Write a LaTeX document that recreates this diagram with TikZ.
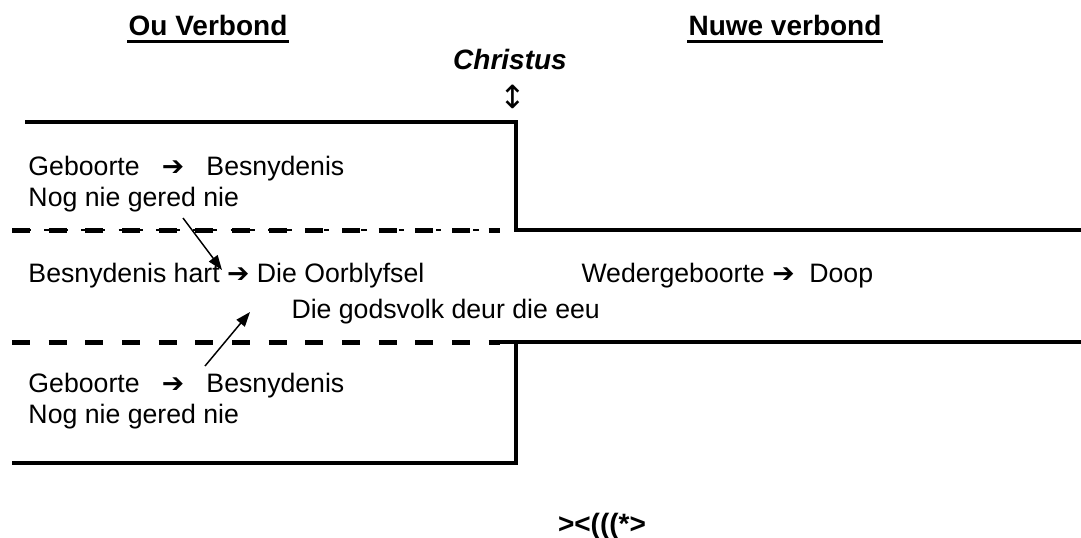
\documentclass[tikz,border=0pt]{standalone}
\usepackage{fontspec}
\setmainfont{Liberation Sans}
\newfontfamily\symfont{DejaVu Sans}
\usetikzlibrary{arrows.meta}

\tikzset{every picture/.style={line width=0.75pt}}
\tikzset{
  txt/.style={anchor=base west, inner sep=0.75pt, font=\fontsize{20}{24}\selectfont},
  head/.style={anchor=base, inner sep=0.75pt, font=\fontsize{21}{25}\selectfont\bfseries},
  wall/.style={line width=3pt},
  dashwall/.style={line width=3.75pt, dash pattern=on 13.5pt off 14pt},
  thindash/.style={line width=1pt, dash pattern=on 4pt off 10pt, dash phase=-10pt},
  pointer/.style={line width=1.1pt, -{Triangle[length=11pt,width=8pt]}},
}
\newcommand{\rarr}{{\symfont ➔}}

\begin{document}
\begin{tikzpicture}[x=0.75pt,y=0.75pt,yscale=-1,xscale=1]
\useasboundingbox (0,0) rectangle (1081,537);

%Straight Lines: old covenant, top
\draw [wall] (25,122) -- (516,122) -- (516,230) -- (1081,230) ;
\draw [dashwall] (12,230) -- (500,230) ;
\draw [thindash] (12,230) -- (500,230) ;
%Straight Lines: old covenant, bottom
\draw [dashwall] (12,342) -- (500,342) ;
\draw [wall] (495,342) -- (1081,342) ;
\draw [wall] (516,342) -- (516,463) -- (12,463) ;

% Text Node
\node [head] (ou) at (208,35) {Ou Verbond};
\draw [line width=2.6pt] ([yshift=4.8pt]ou.base west) -- ([yshift=4.8pt]ou.base east) ;
% Text Node
\node [head] (nuwe) at (785,35) {Nuwe verbond};
\draw [line width=2.6pt] ([yshift=4.8pt]nuwe.base west) -- ([yshift=4.8pt]nuwe.base east) ;
% Text Node
\node [head, font=\fontsize{21}{25}\selectfont\bfseries\itshape] (christus) at (510,69) {Christus};
% Text Node
\node [inner sep=0pt, font=\fontsize{24}{28}\selectfont] (updown) at (513,97) {\symfont ↕};

% Text Node
\node [txt] (geb1) at (27,175) {Geboorte\ \ \ \rarr\ \ \ Besnydenis};
% Text Node
\node [txt] (nog1) at (27,206) {Nog nie gered nie};
% Text Node
\node [txt] (hart) at (27,282) {Besnydenis hart \rarr\ Die Oorblyfsel};
% Text Node
\node [txt] (weder) at (580,282) {Wedergeboorte \rarr\ \ Doop};
% Text Node
\node [txt] (volk) at (290,318) {Die godsvolk deur die eeu};
% Text Node
\node [txt] (geb2) at (27,392) {Geboorte\ \ \ \rarr\ \ \ Besnydenis};
% Text Node
\node [txt] (nog2) at (27,423) {Nog nie gered nie};
% Text Node
\node [head] (fish) at (602,533) {><(((*>};

%Straight Lines: pointers
\coordinate (gered1) at (183,218);
\coordinate (hartend) at (222,270);
\draw [pointer] (gered1) -- (hartend) ;
\coordinate (geb2start) at (205,366);
\coordinate (volkend) at (250,312);
\draw [pointer] (geb2start) -- (volkend) ;

\end{tikzpicture}
\end{document}
